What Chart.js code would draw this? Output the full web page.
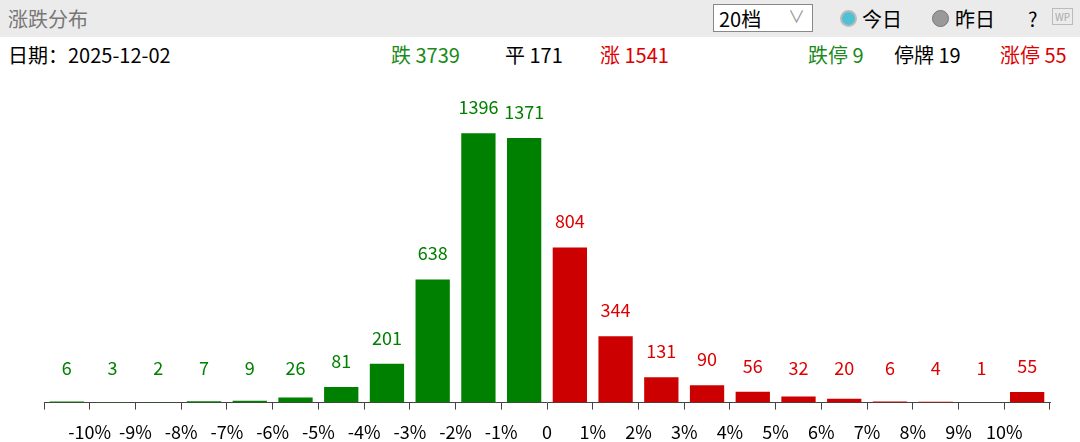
<!DOCTYPE html>
<html><head><meta charset="utf-8">
<script src="https://cdn.jsdelivr.net/npm/chart.js@4"></script>
<style>
body{margin:0;width:1080px;height:442px;background:#fff;font-family:"Noto Sans CJK SC","Noto Sans",sans-serif;overflow:hidden;position:relative}
.bar{position:absolute;left:0;top:0;width:1080px;height:37px;background:#ebebeb}
.t{position:absolute;white-space:nowrap;font-size:20px}
.sel{position:absolute;left:713px;top:4px;width:100px;height:28px;border:1px solid #888;background:#fff;box-sizing:border-box}
.dot{position:absolute;width:17px;height:17px;border-radius:50%}
#wrap{position:absolute;left:0;top:70px;width:1080px;height:372px}
</style></head><body>
<div class="bar"></div>
<div class="t" style="left:8px;top:4px;color:#777">涨跌分布</div>
<div class="sel"></div>
<div class="t" style="left:719px;top:4px;color:#000">20档</div>
<div class="t" style="left:788px;top:3px;color:#999;font-size:17px">∨</div>
<div class="dot" style="left:840px;top:10px;background:#4ec1d4;border:2px solid #bbb;box-sizing:border-box"></div>
<div class="t" style="left:862px;top:4px;color:#000">今日</div>
<div class="dot" style="left:932px;top:10px;background:#999;border:1px solid #777;box-sizing:border-box"></div>
<div class="t" style="left:955px;top:4px;color:#000">昨日</div>
<div class="t" style="left:1028px;top:4px;color:#000">?</div>
<div class="t" style="left:1052px;top:8px;color:#aaa;font-size:10px;border:1px solid #bbb;padding:0 2px">WP</div>
<div class="t" style="left:8px;top:40px;color:#000">日期：2025-12-02</div>
<div class="t" style="left:391px;top:40px;color:#1a8a1a">跌 3739</div>
<div class="t" style="left:505px;top:40px;color:#000">平 171</div>
<div class="t" style="left:600px;top:40px;color:#dd0000">涨 1541</div>
<div class="t" style="left:808px;top:40px;color:#1a8a1a">跌停 9</div>
<div class="t" style="left:894px;top:40px;color:#000">停牌 19</div>
<div class="t" style="left:1000px;top:40px;color:#dd0000">涨停 55</div>
<div id="wrap"><canvas id="c"></canvas></div>
<script>
const categories = ["<-10%","-10~-9%","-9~-8%","-8~-7%","-7~-6%","-6~-5%","-5~-4%","-4~-3%","-3~-2%","-2~-1%","-1~0%",
  "0~1%","1~2%","2~3%","3~4%","4~5%","5~6%","6~7%","7~8%","8~9%","9~10%",">10%"];
const counts = [6,3,2,7,9,26,81,201,638,1396,1371,804,344,131,90,56,32,20,6,4,1,55];
const tickLabels = ["-10%","-9%","-8%","-7%","-6%","-5%","-4%","-3%","-2%","-1%","0","1%","2%","3%","4%","5%","6%","7%","8%","9%","10%"];
const GREEN = "#008000", RED = "#cc0000";
const barColors = counts.map((v, i) => i < 11 ? GREEN : RED);

const labelsPlugin = {
  id: "labelsPlugin",
  afterDatasetsDraw(chart) {
    const ctx = chart.ctx;
    ctx.save();
    ctx.font = "18px 'Noto Sans CJK SC', sans-serif";
    ctx.textAlign = "center";
    ctx.textBaseline = "bottom";
    const bars = chart.getDatasetMeta(0).data;
    bars.forEach((bar, i) => {
      ctx.fillStyle = i < 11 ? GREEN : "#dd0000";
      ctx.fillText(String(counts[i]), bar.x, Math.min(bar.y, chart.chartArea.bottom - 8) - 17);
    });
    // labels sit on the boundaries between bins
    const xs = chart.scales.x;
    ctx.fillStyle = "#000";
    ctx.textBaseline = "middle";
    tickLabels.forEach((t, i) => {
      const x = (xs.getPixelForValue(i) + xs.getPixelForValue(i + 1)) / 2;
      ctx.fillText(t, x, chart.chartArea.bottom + 30);
    });
    ctx.restore();
  }
};

new Chart(document.getElementById("c"), {
  type: "bar",
  data: {
    labels: categories,
    datasets: [{ data: counts, backgroundColor: barColors, categoryPercentage: 0.75, barPercentage: 1 }]
  },
  options: {
    responsive: true,
    maintainAspectRatio: false,
    animation: false,
    layout: { padding: { left: 44, right: 30, top: 20, bottom: 12 } },
    plugins: { legend: { display: false }, tooltip: { enabled: false } },
    scales: {
      x: {
        offset: true,
        ticks: { callback: () => "", padding: 0, font: { size: 17 } },
        grid: { offset: true, drawOnChartArea: false, drawTicks: true, tickLength: 7, color: "#444" },
        border: { color: "#444", width: 1 }
      },
      y: { display: false, min: 0, max: 1620 }
    }
  },
  plugins: [labelsPlugin]
});
</script>
</body></html>
